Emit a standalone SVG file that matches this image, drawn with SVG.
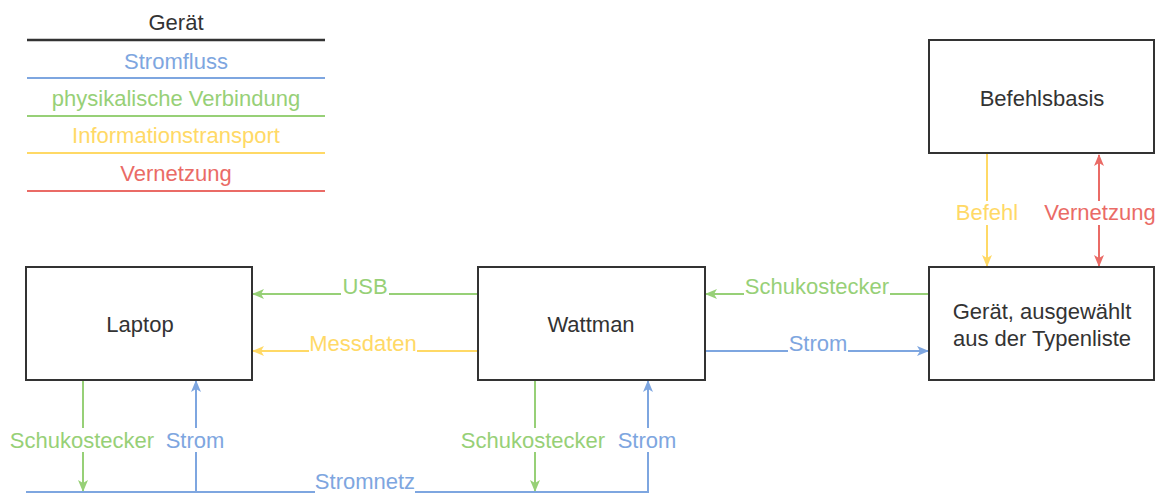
<svg xmlns="http://www.w3.org/2000/svg" width="1156" height="495" viewBox="0 0 1156 495">
<style>
text{font-family:"Liberation Sans",Arial,sans-serif;font-size:22px;text-anchor:middle;dominant-baseline:central}
.box{fill:#fff;stroke:#333;stroke-width:2}
.dark{fill:#333}
.blue{stroke:#7EA6E0;fill:none;stroke-width:2}
.green{stroke:#97D077;fill:none;stroke-width:2}
.yellow{stroke:#FFD966;fill:none;stroke-width:2}
.red{stroke:#EA6B66;fill:none;stroke-width:2}
.tb{fill:#7EA6E0}.tg{fill:#97D077}.ty{fill:#FFD966}.tr{fill:#EA6B66}
.bg{fill:#fff}
</style>
<defs>
<marker id="aBlue" viewBox="0 0 12 10" refX="11" refY="5" markerWidth="12" markerHeight="10" markerUnits="userSpaceOnUse" orient="auto-start-reverse"><path d="M0,0 L12,5 L0,10 L3,5 Z" fill="#7EA6E0"/></marker>
<marker id="aGreen" viewBox="0 0 12 10" refX="11" refY="5" markerWidth="12" markerHeight="10" markerUnits="userSpaceOnUse" orient="auto-start-reverse"><path d="M0,0 L12,5 L0,10 L3,5 Z" fill="#97D077"/></marker>
<marker id="aYellow" viewBox="0 0 12 10" refX="11" refY="5" markerWidth="12" markerHeight="10" markerUnits="userSpaceOnUse" orient="auto-start-reverse"><path d="M0,0 L12,5 L0,10 L3,5 Z" fill="#FFD966"/></marker>
<marker id="aRed" viewBox="0 0 12 10" refX="11" refY="5" markerWidth="12" markerHeight="10" markerUnits="userSpaceOnUse" orient="auto-start-reverse"><path d="M0,0 L12,5 L0,10 L3,5 Z" fill="#EA6B66"/></marker>
</defs>
<rect width="1156" height="495" fill="#fff"/>

<g id="legend">
<text x="176" y="22" class="dark">Gerät</text>
<line x1="27" y1="40" x2="325" y2="40" stroke="#333" stroke-width="2.5"/>
<text x="176" y="61" class="tb">Stromfluss</text>
<line x1="27" y1="78" x2="325" y2="78" class="blue" stroke-width="1.5"/>
<text x="176" y="98" class="tg">physikalische Verbindung</text>
<line x1="27" y1="116" x2="325" y2="116" class="green" stroke-width="1.5"/>
<text x="176" y="135" class="ty">Informationstransport</text>
<line x1="27" y1="153" x2="325" y2="153" class="yellow" stroke-width="1.5"/>
<text x="176" y="173" class="tr">Vernetzung</text>
<line x1="27" y1="191" x2="325" y2="191" class="red" stroke-width="1.5"/>
</g>

<g id="connectors">
<!-- USB -->
<line x1="477" y1="294" x2="253" y2="294" class="green" marker-end="url(#aGreen)"/>
<rect x="341" y="277" width="48" height="20" class="bg"/>
<text x="365" y="286" class="tg">USB</text>
<!-- Messdaten -->
<line x1="477" y1="351" x2="253" y2="351" class="yellow" marker-end="url(#aYellow)"/>
<rect x="309" y="334" width="108" height="20" class="bg"/>
<text x="363" y="343" class="ty">Messdaten</text>
<!-- Schukostecker Geraet->Wattman -->
<line x1="929" y1="294" x2="706" y2="294" class="green" marker-end="url(#aGreen)"/>
<rect x="744" y="277" width="146" height="20" class="bg"/>
<text x="817" y="286" class="tg">Schukostecker</text>
<!-- Strom Wattman->Geraet -->
<line x1="706" y1="351" x2="928" y2="351" class="blue" marker-end="url(#aBlue)"/>
<rect x="788" y="334" width="60" height="20" class="bg"/>
<text x="818" y="343" class="tb">Strom</text>
<!-- Befehl -->
<line x1="987" y1="154" x2="987" y2="266" class="yellow" marker-end="url(#aYellow)"/>
<rect x="955" y="201" width="64" height="24" class="bg"/>
<text x="987" y="212" class="ty">Befehl</text>
<!-- Vernetzung -->
<line x1="1099" y1="155" x2="1099" y2="266" class="red" marker-start="url(#aRed)" marker-end="url(#aRed)"/>
<rect x="1044" y="201" width="112" height="24" class="bg"/>
<text x="1100" y="212" class="tr">Vernetzung</text>
<!-- Laptop Schukostecker down -->
<line x1="83" y1="381" x2="83" y2="491" class="green" marker-end="url(#aGreen)"/>
<rect x="10" y="428" width="146" height="24" class="bg"/>
<text x="82" y="440" class="tg">Schukostecker</text>
<!-- Laptop Strom up -->
<line x1="196" y1="492" x2="196" y2="381" class="blue" marker-end="url(#aBlue)"/>
<rect x="165" y="428" width="60" height="24" class="bg"/>
<text x="195" y="440" class="tb">Strom</text>
<!-- Wattman Schukostecker down -->
<line x1="535" y1="381" x2="535" y2="491" class="green" marker-end="url(#aGreen)"/>
<rect x="461" y="428" width="146" height="24" class="bg"/>
<text x="533" y="440" class="tg">Schukostecker</text>
<!-- Wattman Strom up -->
<line x1="648" y1="492" x2="648" y2="381" class="blue" marker-end="url(#aBlue)"/>
<rect x="617" y="428" width="60" height="24" class="bg"/>
<text x="647" y="440" class="tb">Strom</text>
</g>

<g id="stromnetz">
<line x1="26" y1="492" x2="649" y2="492" class="blue"/>
<rect x="315" y="470" width="100" height="23" class="bg"/>
<text x="365" y="481" class="tb">Stromnetz</text>
</g>

<g id="laptop">
<rect x="26" y="267" width="226" height="113" class="box"/>
<text x="140" y="324" class="dark">Laptop</text>
</g>
<g id="wattman">
<rect x="478" y="267" width="227" height="113" class="box"/>
<text x="591" y="324" class="dark">Wattman</text>
</g>
<g id="geraet">
<rect x="929" y="267" width="225" height="113" class="box"/>
<text x="1042" y="311" class="dark">Gerät, ausgewählt</text>
<text x="1042" y="338" class="dark">aus der Typenliste</text>
</g>
<g id="befehlsbasis">
<rect x="929" y="40" width="225" height="113" class="box"/>
<text x="1042" y="98" class="dark">Befehlsbasis</text>
</g>
</svg>
